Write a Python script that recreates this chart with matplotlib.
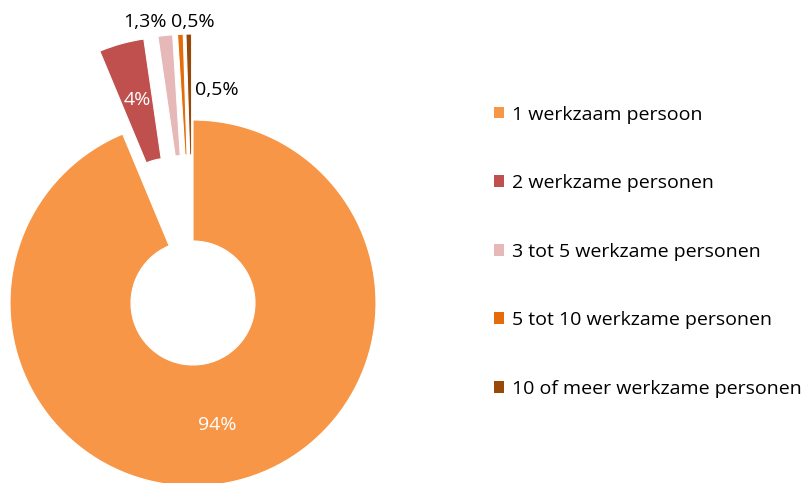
import numpy as np
import matplotlib.pyplot as plt
from matplotlib.patches import Patch

categorieen = ["1 werkzaam persoon", "2 werkzame personen", "3 tot 5 werkzame personen",
               "5 tot 10 werkzame personen", "10 of meer werkzame personen"]
percentages = [94, 4, 1.3, 0.5, 0.5]
kleuren = ["#F79646", "#C0504D", "#E6B9B8", "#E46C0A", "#984807"]


def label(v):
    s = f"{v:g}".replace(".", ",")
    return s + "%"


plt.rcParams['font.family'] = ['Open Sans', 'DejaVu Sans']

fig = plt.figure(figsize=(8.1, 4.83), dpi=100)
ax = fig.add_axes([0, 0, 1, 1])

straal = 183
midden = (193, 180)
uit = [0, 86, 86, 86, 86]

wedges, teksten = ax.pie(percentages, colors=kleuren, radius=straal, center=midden,
                         startangle=90, counterclock=False, explode=uit,
                         wedgeprops=dict(width=121, edgecolor="white", linewidth=0.8),
                         frame=True)
ax.set_xlim(0, 810)
ax.set_ylim(0, 483)
ax.set_aspect('equal')
ax.axis('off')

# labels: binnen voor de grote stukken, buiten voor de kleine
for i, w in enumerate(wedges[:2]):
    th = np.deg2rad((w.theta1 + w.theta2) / 2)
    cx, cy = w.center
    ax.text(cx + 0.68 * straal * np.cos(th), cy + 0.68 * straal * np.sin(th), label(percentages[i]),
            color="white", fontsize=14, ha="center", va="center")

ax.text(145, 461, label(percentages[2]), fontsize=14, ha="center", va="center")
ax.text(193, 461, label(percentages[3]), fontsize=14, ha="center", va="center")
ax.text(217, 393, label(percentages[4]), fontsize=14, ha="center", va="center")

handles = [Patch(facecolor=c, edgecolor="none") for c in kleuren]
fig.legend(handles, categorieen, loc="upper left", bbox_to_anchor=(476 / 810, 1 - 88 / 483),
           frameon=False, fontsize=14, handlelength=0.55, handleheight=0.55,
           handletextpad=0.4, labelspacing=2.6)

fig.savefig("out.png", dpi=100)
